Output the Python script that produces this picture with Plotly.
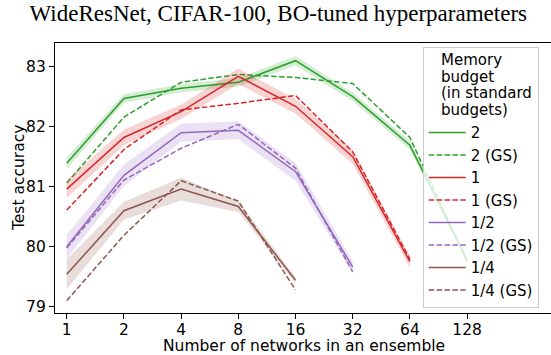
import math
import plotly.graph_objects as go

# ---------------- data ----------------
ensemble_sizes = [1, 2, 4, 8, 16, 32, 64, 128]
tick_labels = ["1", "2", "4", "8", "16", "32", "64", "128"]
y_ticks = [79, 80, 81, 82, 83]

budget_labels = ["2", "1", "1/2", "1/4"]
colors = ["#2ca02c", "#d62728", "#9467bd", "#8c564b"]
legend_title_lines = ["Memory", "budget", "(in standard", "budgets)"]

mean_2 = [81.39, 82.47, 82.64, 82.74, 83.10, 82.50, 81.69, 79.78]
std_2 = [0.10, 0.07, 0.07, 0.07, 0.08, 0.07, 0.07, 0.07]
gs_2 = [81.06, 82.16, 82.74, 82.87, 82.82, 82.72, 81.82, 79.76]

mean_1 = [80.96, 81.82, 82.25, 82.84, 82.34, 81.50, 79.75]
std_1 = [0.15, 0.13, 0.12, 0.13, 0.12, 0.12, 0.10]
gs_1 = [80.61, 81.62, 82.28, 82.39, 82.52, 81.58, 79.79]

mean_half = [80.00, 81.19, 81.90, 81.94, 81.25, 79.66]
std_half = [0.20, 0.18, 0.15, 0.15, 0.15, 0.10]
gs_half = [79.98, 81.11, 81.64, 82.04, 81.31, 79.58]

mean_quarter = [79.54, 80.60, 80.96, 80.67, 79.44]
std_quarter = [0.25, 0.15, 0.19, 0.09, 0.05]
gs_quarter = [79.10, 80.19, 81.10, 80.76, 79.28]

series = [
    (mean_2, std_2, gs_2),
    (mean_1, std_1, gs_1),
    (mean_half, std_half, gs_half),
    (mean_quarter, std_quarter, gs_quarter),
]


def rgba(hex_color, a):
    h = hex_color.lstrip("#")
    r, g, b = int(h[0:2], 16), int(h[2:4], 16), int(h[4:6], 16)
    return f"rgba({r},{g},{b},{a})"


fig = go.Figure()
for (m, s, gs), lab, col in zip(series, budget_labels, colors):
    xs = ensemble_sizes[: len(m)]
    upper = [a + b for a, b in zip(m, s)]
    lower = [a - b for a, b in zip(m, s)]
    fig.add_trace(go.Scatter(
        x=xs + xs[::-1], y=upper + lower[::-1], fill="toself",
        fillcolor=rgba(col, 0.2), line=dict(width=0), mode="lines",
        showlegend=False, hoverinfo="skip"))
    fig.add_trace(go.Scatter(
        x=xs, y=m, mode="lines", name=lab, legendgroup=lab,
        line=dict(color=col, width=1.5)))
    fig.add_trace(go.Scatter(
        x=xs, y=gs, mode="lines", name=f"{lab} (GS)", legendgroup=lab + "gs",
        line=dict(color=col, width=1.5, dash="5.5px,2.4px")))

W, H = 551, 355
ml, mr, mt, mb = 55, 0, 43, 42
PW, PH = W - ml - mr, H - mt - mb
x_lo = math.log10(2 ** -0.205)
x_hi = math.log10(2 ** 8.467)


def px_x(px):
    return (px - ml) / PW


def px_y(py):
    return (H - mb - py) / PH


font = "DejaVu Sans"
fs = 15.5
annotations = [
    dict(text="Number of networks in an ensemble", xref="paper", yref="paper",
         x=px_x(303.5), y=px_y(346), xanchor="center", yanchor="middle",
         showarrow=False, font=dict(size=fs)),
    dict(text="Test accuracy", xref="paper", yref="paper", textangle=-90,
         x=px_x(19), y=px_y(178), xanchor="center", yanchor="middle",
         showarrow=False, font=dict(size=fs)),
]
for i, line in enumerate(legend_title_lines):
    annotations.append(dict(
        text=line, xref="paper", yref="paper", x=px_x(438.5),
        y=px_y(60.5 + 16.4 * i), xanchor="left", yanchor="middle",
        showarrow=False, font=dict(size=15)))

fig.update_layout(
    width=W, height=H,
    margin=dict(l=ml, r=mr, t=mt, b=mb),
    paper_bgcolor="white", plot_bgcolor="white",
    font=dict(family=font, size=fs, color="black"),
    title=dict(text="WideResNet, CIFAR-100, BO-tuned hyperparameters",
               font=dict(family="Liberation Serif", size=23, color="black"),
               x=0.505, xanchor="center", y=0.963, yanchor="middle"),
    xaxis=dict(type="log", range=[x_lo, x_hi], tickvals=ensemble_sizes,
               ticktext=tick_labels, showgrid=False, zeroline=False,
               showline=True, linecolor="black", linewidth=1.1, mirror=True,
               ticks="outside", ticklen=5, tickwidth=1.1, tickcolor="black",
               ticklabelstandoff=-3, tickfont=dict(size=fs)),
    yaxis=dict(range=[78.895, 83.395], tickvals=y_ticks,
               showgrid=False, zeroline=False, showline=True,
               linecolor="black", linewidth=1.1, mirror=False,
               ticks="outside", ticklen=5, tickwidth=1.1, tickcolor="black",
               tickfont=dict(size=fs)),
    legend=dict(
        x=px_x(422.7), xanchor="left",
        y=px_y(46.7), yanchor="top",
        bgcolor="rgba(255,255,255,0.8)", bordercolor="#cccccc", borderwidth=1,
        font=dict(size=15), itemwidth=37,
        title=dict(text="&nbsp;<br>&nbsp;<br>&nbsp;<br>&nbsp;",
                   font=dict(size=13.2), side="top"),
        tracegroupgap=3.4, traceorder="normal"),
    annotations=annotations,
)

fig.write_html("out.html")
